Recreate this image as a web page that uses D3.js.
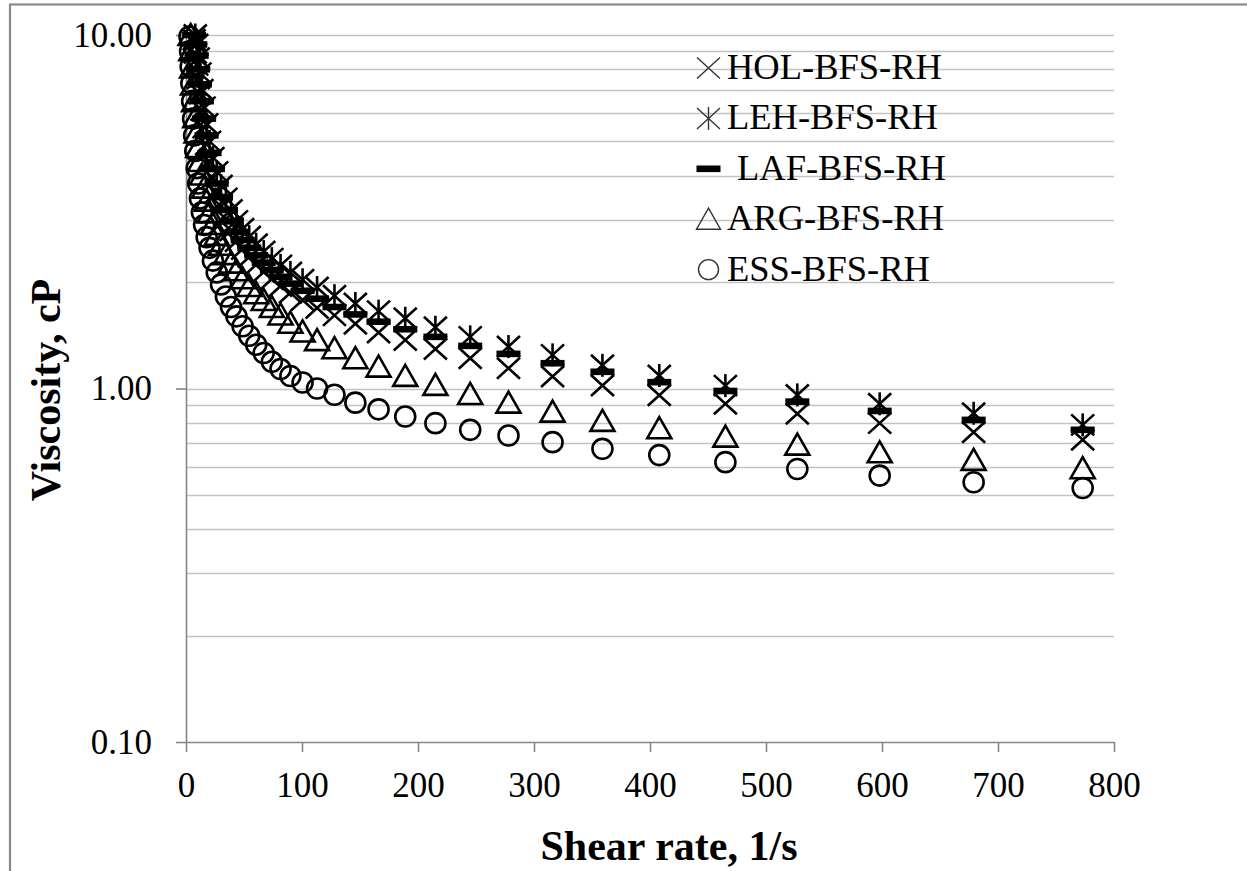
<!DOCTYPE html>
<html>
<head>
<meta charset="utf-8">
<script src="https://cdn.jsdelivr.net/npm/d3@7"></script>
<style>
  body { margin: 0; background: #fff; }
  svg { display: block; }
  text { font-family: "Liberation Serif", "Times New Roman", serif; fill: #000; }
</style>
</head>
<body>
<svg id="chart" width="1247" height="871"></svg>
<script>
// Shear rate (1/s), shared by every sample
const shearRate = [3.0, 3.5, 4.0, 4.6, 5.3, 6.1, 7.0, 8.0, 9.2, 10.5, 12.0, 13.7, 15.6, 17.8, 20.3, 23.2, 26.5, 30.2, 34.4, 38.8,
  43.5, 48.8, 54.5, 60.5, 67, 74, 81.5, 90, 100.5, 113, 128, 146, 166, 189, 215, 245, 278, 316, 359, 408, 465, 527, 598, 679, 773];

// Viscosity (cP) per sample; null = above the 10 cP axis limit
const holBfsRh = [null, null, null, null, null, null, 9.7, 8.9, 8.23, 7.53, 6.83, 6.13, 5.47, 4.9, 4.38, 3.94, 3.59, 3.28, 3.02, 2.8,
  2.61, 2.48, 2.355, 2.24, 2.135, 2.04, 1.95, 1.865, 1.78, 1.69, 1.61, 1.525, 1.44, 1.372, 1.294, 1.218, 1.141, 1.081, 1.02, 0.957,
  0.905, 0.848, 0.798, 0.752, 0.716];
const lehBfsRh = [null, null, null, null, null, null, null, 10.0, 9.4, 8.6, 7.8, 7.0, 6.25, 5.6, 5.0, 4.5, 4.1, 3.75, 3.45, 3.2,
  2.98, 2.83, 2.69, 2.56, 2.44, 2.33, 2.23, 2.13, 2.03, 1.93, 1.83, 1.74, 1.655, 1.58, 1.49, 1.40, 1.314, 1.245, 1.163, 1.088,
  1.019, 0.959, 0.905, 0.851, 0.789];
const lafBfsRh = [null, null, null, null, null, null, 10.0, 9.4, 8.75, 8.0, 7.25, 6.5, 5.8, 5.2, 4.64, 4.18, 3.8, 3.48, 3.2, 2.97,
  2.77, 2.63, 2.5, 2.38, 2.27, 2.165, 2.07, 1.98, 1.89, 1.795, 1.70, 1.62, 1.545, 1.471, 1.40, 1.32, 1.253, 1.179, 1.115, 1.042,
  0.984, 0.918, 0.864, 0.815, 0.764];
const argBfsRh = [null, null, 10.0, 9.05, 8.1, 7.25, 6.5, 5.85, 5.3, 4.82, 4.4, 4.03, 3.7, 3.4, 3.15, 2.92, 2.72, 2.55, 2.40, 2.27,
  2.16, 2.05, 1.95, 1.86, 1.78, 1.70, 1.62, 1.535, 1.45, 1.37, 1.30, 1.218, 1.153, 1.086, 1.024, 0.965, 0.912, 0.86, 0.81, 0.772,
  0.731, 0.694, 0.66, 0.628, 0.595];
const essBfsRh = [9.9, 9.0, 8.15, 7.3, 6.5, 5.8, 5.2, 4.7, 4.2, 3.8, 3.45, 3.15, 2.9, 2.68, 2.5, 2.3, 2.13, 1.97, 1.82, 1.70,
  1.60, 1.50, 1.41, 1.33, 1.26, 1.19, 1.135, 1.085, 1.04, 1.0, 0.96, 0.912, 0.873, 0.833, 0.798, 0.764, 0.736, 0.705, 0.675, 0.648,
  0.619, 0.592, 0.567, 0.543, 0.523];

const seriesNames = ["HOL-BFS-RH", "LEH-BFS-RH", "LAF-BFS-RH", "ARG-BFS-RH", "ESS-BFS-RH"];
const seriesSymbols = ["cross", "star", "dash", "triangle", "circle"];
const seriesValues = [holBfsRh, lehBfsRh, lafBfsRh, argBfsRh, essBfsRh];

const xTickValues = [0, 100, 200, 300, 400, 500, 600, 700, 800];
const yTickValues = [0.1, 1, 10];
const yTickLabels = ["0.10", "1.00", "10.00"];
const xTitle = "Shear rate, 1/s";
const yTitle = "Viscosity, cP";

const svg = d3.select("#chart");
const W = 1247, H = 871;
const plot = { left: 186, right: 1114, top: 35, bottom: 742 };

const x = d3.scaleLinear().domain([0, 800]).range([plot.left, plot.right]);
const y = d3.scaleLog().domain([0.1, 10]).range([plot.bottom, plot.top]);

// chart frame
svg.append("rect").attr("x", 10).attr("y", 4.5).attr("width", W + 20).attr("height", H + 20)
  .attr("fill", "#fff").attr("stroke", "#8a8a8a").attr("stroke-width", 2.2);

// horizontal gridlines at every major and minor log step
svg.append("g").selectAll("line")
  .data(y.ticks().filter(v => v > 0.1 + 1e-9))
  .join("line")
  .attr("x1", plot.left).attr("x2", plot.right)
  .attr("y1", d => Math.round(y(d)) + 0.5).attr("y2", d => Math.round(y(d)) + 0.5)
  .attr("stroke", "#c3c3c3").attr("stroke-width", 1.6);

// axes
const yAxis = d3.axisLeft(y).tickValues(yTickValues)
  .tickFormat((d, i) => yTickLabels[i]).tickSize(10).tickSizeOuter(0).tickPadding(24);
const xAxis = d3.axisBottom(x).tickValues(xTickValues)
  .tickFormat(d3.format("d")).tickSize(10).tickSizeOuter(0).tickPadding(20);

const gy = svg.append("g").attr("transform", `translate(${plot.left},0)`).call(yAxis);
const gx = svg.append("g").attr("transform", `translate(0,${plot.bottom})`).call(xAxis);
[gx, gy].forEach(g => {
  g.select(".domain").attr("stroke", "#868686").attr("stroke-width", 1.6);
  g.selectAll(".tick line").attr("stroke", "#868686").attr("stroke-width", 1.6);
  g.selectAll(".tick text").attr("font-size", 35)
    .attr("font-family", "'Liberation Serif', 'Times New Roman', serif").attr("fill", "#000");
});

// axis titles
svg.append("text").attr("x", 669).attr("y", 860).attr("text-anchor", "middle")
  .attr("font-size", 42).attr("font-weight", "bold").text(xTitle);
svg.append("text").attr("transform", "translate(60,390) rotate(-90)").attr("text-anchor", "middle")
  .attr("font-size", 42).attr("font-weight", "bold").text(yTitle);

// marker shapes
function drawMarker(g, type, sw, color) {
  if (type === "cross" || type === "star") {
    g.append("path").attr("d", "M-11.5,-10.5L11.5,10.5M-11.5,10.5L11.5,-10.5")
      .attr("stroke", color).attr("stroke-width", sw).attr("fill", "none");
    if (type === "star") {
      g.append("path").attr("d", "M0,-11.5L0,11.5")
        .attr("stroke", color).attr("stroke-width", sw).attr("fill", "none");
    }
  } else if (type === "dash") {
    g.append("rect").attr("x", -12).attr("y", -3.3).attr("width", 24).attr("height", 6.6).attr("fill", "#000");
  } else if (type === "triangle") {
    g.append("path").attr("d", "M0,-11L12,10L-12,10Z")
      .attr("stroke", color).attr("stroke-width", sw).attr("fill", "none").attr("stroke-linejoin", "miter");
  } else if (type === "circle") {
    g.append("circle").attr("r", 10)
      .attr("stroke", color).attr("stroke-width", sw).attr("fill", "none");
  }
}

// data series
seriesValues.forEach((vals, si) => {
  const pts = shearRate.map((s, i) => ({ s, v: vals[i] })).filter(d => d.v != null);
  const g = svg.append("g").attr("class", "series");
  pts.forEach(d => {
    const m = g.append("g").attr("transform", `translate(${x(d.s)},${y(d.v)})`);
    drawMarker(m, seriesSymbols[si], 2.6, "#000");
  });
});

// legend
const legend = svg.append("g");
seriesNames.forEach((name, i) => {
  const base = 79 + i * 50.4;
  const m = legend.append("g").attr("transform", `translate(708.5,${base - 11})`);
  drawMarker(m, seriesSymbols[i], 1.4, "#333");
  legend.append("text").attr("x", seriesSymbols[i] === "dash" ? 737 : 727).attr("y", base)
    .attr("font-size", 36.5).text(name);
});
</script>
</body>
</html>
